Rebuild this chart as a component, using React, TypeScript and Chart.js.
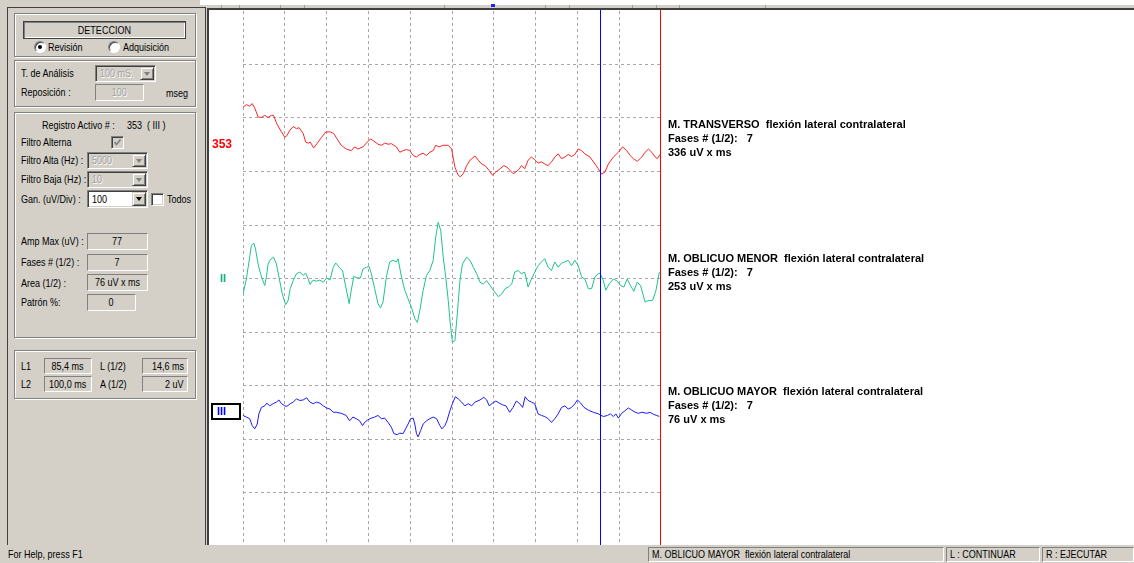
import React, { useEffect, useRef } from "react";
import { Chart, registerables } from "chart.js";

Chart.register(...registerables);

// ---------- DATA ----------
// time axis in ms (0..100), amplitude in uV relative to each trace baseline
const redT = [0,0.8,1.6,2.2,2.8,3.6,4.4,5.2,6.0,6.8,7.3,8.1,9.2,10.0,10.5,11.2,12.0,12.8,13.4,14.4,15.0,15.6,16.1,16.9,17.7,18.8,19.8,20.9,21.7,22.5,23.5,24.7,25.9,26.7,27.5,28.7,29.5,30.5,31.3,32.3,33.1,33.9,34.7,35.5,36.7,37.5,38.3,39.1,39.9,40.7,41.5,42.3,43.1,43.9,44.7,45.5,46.1,46.9,47.9,49.1,49.9,50.7,51.5,52.0,52.7,53.5,54.3,55.5,56.3,57.1,57.9,58.9,59.7,60.5,61.5,62.4,63.2,64.0,64.6,65.3,66.1,66.6,67.4,68.2,69.0,69.8,70.6,71.4,72.2,73.0,73.8,74.6,75.4,76.2,77.0,77.8,78.6,79.4,80.2,81.0,81.8,83.0,84.2,85.0,85.8,86.6,87.4,88.6,89.8,90.8,91.8,92.6,93.4,94.3,95.4,96.2,97.0,97.8,98.6,99.1,99.8];
const redV = [70,75,72,77,69,52,51,55,51,55,55,39,24,14,17,27,34,30,32,21,5,3,5,-6,2,14,24,24,21,11,-1,-8,-11,-4,-8,-4,3,11,7,1,-1,3,1,2,-4,-14,-11,-9,-11,-20,-23,-18,-16,-20,-14,-11,-1,-4,-1,-1,-8,-42,-57,-60,-54,-39,-29,-21,-29,-36,-39,-48,-57,-51,-45,-39,-42,-49,-54,-51,-45,-39,-45,-29,-23,-28,-34,-32,-36,-39,-32,-23,-17,-26,-23,-18,-22,-18,-8,-11,-17,-23,-36,-45,-55,-51,-36,-23,-14,-4,-11,-20,-26,-31,-23,-14,-8,-14,-23,-26,-18];

const greenT = [0,0.8,1.6,2.0,2.6,3.0,3.6,4.2,4.6,5.2,5.6,6.0,6.5,7.3,8.0,8.6,9.4,10.2,10.8,11.3,12.0,12.8,13.6,14.4,15.0,15.6,16.0,16.8,17.6,18.4,19.2,20.0,20.8,21.6,22.2,23.0,23.8,24.6,25.4,25.9,26.5,27.3,28.1,28.7,29.5,30.2,30.7,31.5,32.3,32.9,33.5,34.3,35.1,35.9,36.7,37.1,37.9,38.7,39.5,40.3,41.1,41.7,42.3,43.1,43.9,44.7,45.5,46.1,46.7,47.3,47.9,48.5,49.1,49.6,50.1,50.7,51.2,51.9,52.5,53.5,54.3,55.1,55.9,56.7,57.5,58.3,59.1,59.9,61.1,61.9,62.7,63.5,64.3,65.0,65.8,66.6,67.4,68.2,69.0,69.8,70.6,71.4,72.2,73.0,73.8,74.6,75.4,76.2,77.0,77.8,78.6,79.4,80.2,81.0,81.8,82.6,83.4,84.2,85.0,85.4,86.2,86.8,87.6,88.6,89.4,90.3,91.1,91.9,92.7,93.5,94.3,95.1,96.2,97.0,98.0,98.8,99.6];
const greenV = [-29,-1,40,62,66,55,27,9,-1,-13,3,27,35,40,27,3,-29,-49,-41,-19,-4,9,12,6,10,-1,-11,-3,-5,-3,-7,1,-3,21,29,21,15,-16,-47,-22,4,1,1,18,21,22,9,-19,-47,-55,-44,3,31,34,31,37,3,-22,-38,-54,-75,-82,-60,-22,6,15,34,77,105,90,40,3,-41,-85,-119,-116,-72,-4,27,40,34,21,9,-7,-10,-4,-13,-22,-34,-29,-19,-16,-10,12,15,9,12,-16,-1,12,24,31,37,21,15,31,21,29,31,34,24,34,24,3,-1,-19,-19,3,9,10,-4,-22,-10,-1,-4,-13,-16,-1,-13,-24,-7,-13,-44,-41,-41,-22,12];

const blueT = [0,0.8,1.6,2.2,2.8,3.4,3.8,4.4,5.2,5.7,6.4,7.2,8.0,8.6,9.2,10.0,10.5,11.3,12.0,12.8,13.6,14.4,15.2,16.0,16.8,17.6,18.4,19.2,20.0,20.8,21.6,22.3,23.5,24.7,25.5,26.3,27.1,27.9,28.6,29.1,29.9,30.7,31.5,32.3,33.1,33.9,34.7,35.5,36.1,36.9,37.5,38.3,38.9,39.5,40.1,40.7,41.1,41.5,41.9,42.5,43.1,43.9,44.7,45.5,46.3,47.1,47.6,48.3,48.8,49.5,50.1,50.8,51.5,52.3,53.1,53.9,54.7,55.5,56.7,57.6,58.3,58.9,59.7,60.5,61.3,62.1,62.9,63.8,64.6,65.4,66.2,66.9,67.5,68.2,69.0,69.8,70.6,71.4,72.2,73.0,73.8,74.6,75.4,76.2,77.0,77.8,78.6,79.4,80.0,80.8,81.6,82.6,83.8,85.0,86.2,87.2,87.9,88.6,89.2,89.8,90.6,91.4,92.2,93.0,93.8,94.6,95.4,96.6,97.4,98.2,99.0,99.6];
const blueV = [-6,-9,-12,-25,-31,-22,-3,9,12,17,12,16,19,23,16,12,11,16,19,25,22,23,27,19,16,19,17,12,8,6,0,0,-2,-6,-16,-9,-12,-16,-25,-19,-14,-11,-9,-6,-12,-11,-19,-28,-40,-42,-39,-40,-31,-22,-12,-11,-22,-40,-46,-34,-22,-16,-12,-9,-12,-25,-31,-25,-16,3,16,29,25,19,12,16,12,19,23,28,23,12,17,21,17,14,12,0,9,21,16,9,29,22,19,16,-3,-6,-8,-12,-19,-12,-3,9,12,6,9,16,23,17,9,4,0,-3,-8,-6,-3,-8,-3,-11,-2,3,8,4,0,-2,0,-2,0,-4,-6,-8];

const traceBaselines = [250, 0, -250]; // uV offset of each channel on the screen
const traceColors = ["#ff2424", "#1ec38c", "#1a1aff"];
const xTicks = [0, 10, 20, 30, 40, 50, 60, 70, 80, 90, 100]; // ms
const yTicks = [-400, -300, -200, -100, 0, 100, 200, 300, 400]; // uV, 100 uV/div
const cursorL1 = 85.4; // ms
const cursorL2 = 100.0; // ms

const channelTitles = [
  "M. TRANSVERSO  flexión lateral contralateral",
  "M. OBLICUO MENOR  flexión lateral contralateral",
  "M. OBLICUO MAYOR  flexión lateral contralateral",
];
const channelFases = ["7", "7", "7"];
const channelAreas = ["336 uV x ms", "253 uV x ms", "76 uV x ms"];

// ---------- STYLE ----------
const FACE = "#d4d0c8";
const SHADOW = "#808080";
const DARK = "#404040";
const UI_FONT = '"Liberation Sans", Arial, sans-serif';
const NARROW = 0.82;
const CANVAS_LEFT = 209;

function Narrow(p: any) {
  return (
    <span style={{ display: "inline-block", transform: `scaleX(${NARROW})`, transformOrigin: p.origin ?? "left center" }}>
      {p.children}
    </span>
  );
}

function Txt(p: any) {
  return (
    <div
      style={{
        position: "absolute",
        left: p.x,
        top: p.y - 7,
        height: 14,
        lineHeight: "14px",
        whiteSpace: "pre",
        fontFamily: UI_FONT,
        fontSize: p.size ?? 11,
        fontWeight: p.bold ? "bold" : "normal",
        color: p.color ?? "#000",
        ...(p.style || {}),
      }}
    >
      {p.bold ? p.children : <Narrow>{p.children}</Narrow>}
    </div>
  );
}

function Field(p: any) {
  const align = p.align ?? "center";
  return (
    <div
      style={{
        position: "absolute",
        left: p.x,
        top: p.y,
        width: p.w,
        height: p.h,
        boxSizing: "border-box",
        border: "1px solid",
        borderColor: `${SHADOW} #fff #fff ${SHADOW}`,
        background: p.bg ?? FACE,
        fontFamily: UI_FONT,
        fontSize: 11,
        lineHeight: `${p.h - 2}px`,
        textAlign: align,
        paddingRight: align === "right" ? 3 : 0,
        color: p.color ?? "#000",
        whiteSpace: "pre",
        overflow: "hidden",
        textShadow: p.color ? "1px 1px #fff" : undefined,
      }}
    >
      <Narrow origin={align === "right" ? "right center" : "center center"}>{p.text}</Narrow>
    </div>
  );
}

function Combo(p: any) {
  const en = !!p.enabled;
  return (
    <div
      style={{
        position: "absolute",
        left: p.x,
        top: p.y,
        width: p.w,
        height: p.h,
        boxSizing: "border-box",
        border: "1px solid",
        borderColor: `${SHADOW} #fff #fff ${SHADOW}`,
        boxShadow: `inset 1px 1px ${DARK}, inset -1px -1px ${FACE}`,
        background: en ? "#fff" : FACE,
      }}
    >
      <div
        style={{
          position: "absolute",
          left: 4,
          top: 1,
          lineHeight: `${p.h - 4}px`,
          fontFamily: UI_FONT,
          fontSize: 11,
          color: en ? "#000" : "#a0a0a0",
          textShadow: en ? undefined : "1px 1px #fff",
          whiteSpace: "pre",
        }}
      >
        <Narrow>{p.text}</Narrow>
      </div>
      <div
        style={{
          position: "absolute",
          right: 1,
          top: 1,
          width: 14,
          height: p.h - 4,
          boxSizing: "border-box",
          background: FACE,
          border: "1px solid",
          borderColor: `${FACE} ${DARK} ${DARK} ${FACE}`,
          boxShadow: `inset 1px 1px #fff, inset -1px -1px ${SHADOW}`,
        }}
      >
        <div
          style={{
            position: "absolute",
            left: 3,
            top: (p.h - 4) / 2 - 3,
            width: 0,
            height: 0,
            borderLeft: "3.5px solid transparent",
            borderRight: "3.5px solid transparent",
            borderTop: `4px solid ${en ? "#000" : SHADOW}`,
          }}
        />
      </div>
    </div>
  );
}

function Check(p: any) {
  return (
    <div
      style={{
        position: "absolute",
        left: p.x,
        top: p.y,
        width: 13,
        height: 13,
        boxSizing: "border-box",
        border: "1px solid",
        borderColor: `${SHADOW} #fff #fff ${SHADOW}`,
        boxShadow: `inset 1px 1px ${DARK}, inset -1px -1px ${FACE}`,
        background: p.disabled ? FACE : "#fff",
      }}
    >
      {p.checked ? (
        <svg width="11" height="11" style={{ position: "absolute", left: 0, top: 0 }}>
          <polyline points="2.5,5 4.5,7.5 8.5,2.5" fill="none" stroke={p.disabled ? SHADOW : "#000"} strokeWidth="1.6" />
        </svg>
      ) : null}
    </div>
  );
}

function Radio(p: any) {
  return (
    <div
      style={{
        position: "absolute",
        left: p.x,
        top: p.y,
        width: 12,
        height: 12,
        boxSizing: "border-box",
        borderRadius: "50%",
        border: "1px solid",
        borderColor: `${SHADOW} #fff #fff ${SHADOW}`,
        background: "#fff",
        boxShadow: `inset 1px 1px ${DARK}`,
      }}
    >
      {p.checked ? (
        <div style={{ position: "absolute", left: 3, top: 3, width: 4, height: 4, borderRadius: "50%", background: "#000" }} />
      ) : null}
    </div>
  );
}

function Group(p: any) {
  return (
    <div
      style={{
        position: "absolute",
        left: p.x,
        top: p.y,
        width: p.w,
        height: p.h,
        boxSizing: "border-box",
        border: `1px solid ${SHADOW}`,
        boxShadow: "1px 1px 0 #fff, inset 1px 1px 0 #fff",
      }}
    />
  );
}

function Sunken(p: any) {
  return (
    <div
      style={{
        position: "absolute",
        left: p.x,
        top: p.y,
        width: p.w,
        height: p.h,
        boxSizing: "border-box",
        border: "1px solid",
        borderColor: `${SHADOW} #fff #fff ${SHADOW}`,
        fontFamily: UI_FONT,
        fontSize: 11,
        lineHeight: `${p.h - 2}px`,
        paddingLeft: 3,
        whiteSpace: "pre",
        overflow: "hidden",
      }}
    >
      <Narrow>{p.text}</Narrow>
    </div>
  );
}

// ---------- CHART ----------
function EmgChart() {
  const ref = useRef<HTMLCanvasElement | null>(null);
  useEffect(() => {
    if (!ref.current) return;
    const series = [
      [redT, redV],
      [greenT, greenV],
      [blueT, blueV],
    ];
    const datasets = series.map(([t, v], k) => ({
      label: channelTitles[k],
      data: (t as number[]).map((x, i) => ({ x, y: (v as number[])[i] + traceBaselines[k] })),
      borderColor: traceColors[k],
      borderWidth: 1,
      pointRadius: 0,
      tension: 0,
      fill: false,
    }));
    const cursorPlugin = {
      id: "cursors",
      afterDraw(chart: any) {
        const { ctx, scales } = chart;
        const lines: [number, string][] = [
          [cursorL1, "#0000ff"],
          [cursorL2, "#ff0000"],
        ];
        lines.forEach(([v, c]) => {
          let col = Math.round(scales.x.getPixelForValue(v));
          if ((col + CANVAS_LEFT) % 2 === 1) col -= 1; // keep a crisp single colored column
          const px = col + 0.5;
          ctx.save();
          ctx.strokeStyle = c;
          ctx.lineWidth = 1;
          ctx.setLineDash([]);
          ctx.beginPath();
          ctx.moveTo(px, 0);
          ctx.lineTo(px, chart.height);
          ctx.stroke();
          ctx.restore();
        });
      },
    };
    const gridColor = (ctx: any) =>
      ctx.tick && ctx.tick.value === cursorL2 && ctx.scale && ctx.scale.axis === "x" ? "rgba(0,0,0,0)" : "#a8a8a8";
    const grid = { color: gridColor, lineWidth: 1, drawTicks: false };
    const chart = new Chart(ref.current, {
      type: "line",
      data: { datasets },
      plugins: [cursorPlugin],
      options: {
        animation: false,
        responsive: false,
        events: [],
        layout: { padding: { left: 34, right: 473, top: 1, bottom: 0 } },
        plugins: { legend: { display: false }, tooltip: { enabled: false }, title: { display: false } },
        scales: {
          x: {
            type: "linear",
            min: 0,
            max: 100,
            afterBuildTicks: (ax: any) => {
              ax.ticks = xTicks.map((value) => ({ value }));
            },
            ticks: { display: false },
            grid,
            border: { display: false, dash: [3, 3] },
          },
          y: {
            type: "linear",
            min: -500,
            max: 500,
            afterBuildTicks: (ax: any) => {
              ax.ticks = yTicks.map((value) => ({ value }));
            },
            ticks: { display: false },
            grid,
            border: { display: false, dash: [3, 3] },
          },
        },
      } as any,
    });
    return () => chart.destroy();
  }, []);
  return (
    <canvas
      ref={ref}
      width={925}
      height={536}
      style={{ position: "absolute", left: CANVAS_LEFT, top: 10, width: 925, height: 536 }}
    />
  );
}

export default function App() {
  const topSeps = [221, 239, 280, 304, 444, 545, 569, 632, 656, 679, 765];
  return (
    <div style={{ position: "absolute", left: 0, top: 0, width: 1134, height: 563, background: FACE, overflow: "hidden" }}>
      {/* top strip */}
      <div style={{ position: "absolute", left: 200, top: 0, width: 934, height: 5, background: "#fff" }} />
      {topSeps.map((x) => (
        <div key={x} style={{ position: "absolute", left: x, top: 5, width: 1, height: 4, background: "#a0a0a0" }} />
      ))}
      <div style={{ position: "absolute", left: 491, top: 4, width: 4, height: 3, background: "#2020ff" }} />

      {/* chart frame */}
      <div
        style={{
          position: "absolute",
          left: 207,
          top: 8,
          width: 927,
          height: 540,
          boxSizing: "border-box",
          background: "#fff",
          borderLeft: `2px solid ${DARK}`,
          borderTop: `2px solid ${DARK}`,
        }}
      />
      <EmgChart />

      {/* channel labels inside trace window */}
      <Txt x={212} y={144} bold size={12} color="#ff0000">353</Txt>
      <Txt x={220} y={278} bold color="#10b080">II</Txt>
      <div
        style={{
          position: "absolute",
          left: 211,
          top: 403,
          width: 30,
          height: 17,
          boxSizing: "border-box",
          border: "2px solid #000",
          background: "#fff",
        }}
      />
      <Txt x={217} y={411} bold color="#0000ff">III</Txt>

      {[117, 251, 384].map((top, k) => (
        <React.Fragment key={k}>
          <Txt x={668} y={top + 7} bold>{channelTitles[k]}</Txt>
          <Txt x={668} y={top + 21} bold>{"Fases # (1/2):   " + channelFases[k]}</Txt>
          <Txt x={668} y={top + 35} bold>{channelAreas[k]}</Txt>
        </React.Fragment>
      ))}

      {/* left panel */}
      <div
        style={{
          position: "absolute",
          left: 7,
          top: 7,
          width: 199,
          height: 545,
          boxSizing: "border-box",
          borderLeft: `1px solid ${DARK}`,
          borderTop: `1px solid ${DARK}`,
          borderRight: `1px solid ${DARK}`,
        }}
      />

      <Group x={14} y={13} w={182} h={44} />
      <div
        style={{
          position: "absolute",
          left: 23,
          top: 21,
          width: 163,
          height: 18,
          boxSizing: "border-box",
          border: `1px solid ${DARK}`,
          boxShadow: `inset 1px 1px ${SHADOW}, inset -1px -1px #fff`,
          fontFamily: UI_FONT,
          fontSize: 11,
          lineHeight: "16px",
          textAlign: "center",
        }}
      >
        <Narrow origin="center center">DETECCION</Narrow>
      </div>
      <Radio x={34} y={41} checked />
      <Txt x={48} y={47}>Revisión</Txt>
      <Radio x={108} y={41} />
      <Txt x={123} y={47}>Adquisición</Txt>

      <Group x={14} y={60} w={182} h={47} />
      <Txt x={21} y={73}>T. de Análisis</Txt>
      <Combo x={95} y={65} w={61} h={17} text="100 mS." />
      <Txt x={21} y={92}>Reposición :</Txt>
      <Field x={95} y={84} w={49} h={17} text="100" color="#a0a0a0" />
      <Txt x={166} y={93}>mseg</Txt>

      <Group x={14} y={112} w={182} h={226} />
      <Txt x={42} y={125}>Registro Activo # :</Txt>
      <Txt x={127} y={125}>353  ( III )</Txt>
      <Txt x={21} y={142}>Filtro Alterna</Txt>
      <Check x={111} y={136} checked disabled />
      <Txt x={21} y={160}>Filtro Alta (Hz) :</Txt>
      <Combo x={87} y={152} w={61} h={17} text="5000" />
      <Txt x={21} y={179}>Filtro Baja (Hz) :</Txt>
      <Combo x={87} y={171} w={61} h={17} text="10" />
      <Txt x={21} y={199}>Gan. (uV/Div) :</Txt>
      <Combo x={87} y={190} w={61} h={18} text="100" enabled />
      <Check x={151} y={193} />
      <Txt x={167} y={199}>Todos</Txt>

      <Txt x={21} y={241}>Amp Max (uV) :</Txt>
      <Field x={87} y={233} w={61} h={17} text="77" />
      <Txt x={21} y={262}>Fases # (1/2) :</Txt>
      <Field x={87} y={254} w={61} h={17} text="7" />
      <Txt x={21} y={283}>Area (1/2) :</Txt>
      <Field x={87} y={274} w={61} h={17} text="76 uV x ms" />
      <Txt x={21} y={302}>Patrón %:</Txt>
      <Field x={87} y={294} w={49} h={17} text="0" />

      <Group x={14} y={350} w={182} h={49} />
      <Txt x={21} y={366}>L1</Txt>
      <Field x={44} y={358} w={48} h={16} text="85,4 ms" />
      <Txt x={100} y={366}>L (1/2)</Txt>
      <Field x={142} y={358} w={46} h={16} text="14,6 ms" align="right" />
      <Txt x={21} y={384}>L2</Txt>
      <Field x={44} y={376} w={48} h={16} text="100,0 ms" />
      <Txt x={100} y={384}>A (1/2)</Txt>
      <Field x={142} y={376} w={46} h={16} text="2 uV" align="right" />

      {/* status bar */}
      <div style={{ position: "absolute", left: 0, top: 545, width: 1134, height: 18, background: FACE, zIndex: 2 }}>
        <Txt x={8} y={9}>For Help, press F1</Txt>
        <Sunken x={648} y={2} w={296} h={15} text={channelTitles[2]} />
        <Sunken x={946} y={2} w={94} h={15} text="L : CONTINUAR" />
        <Sunken x={1042} y={2} w={92} h={15} text="R : EJECUTAR" />
      </div>
    </div>
  );
}
